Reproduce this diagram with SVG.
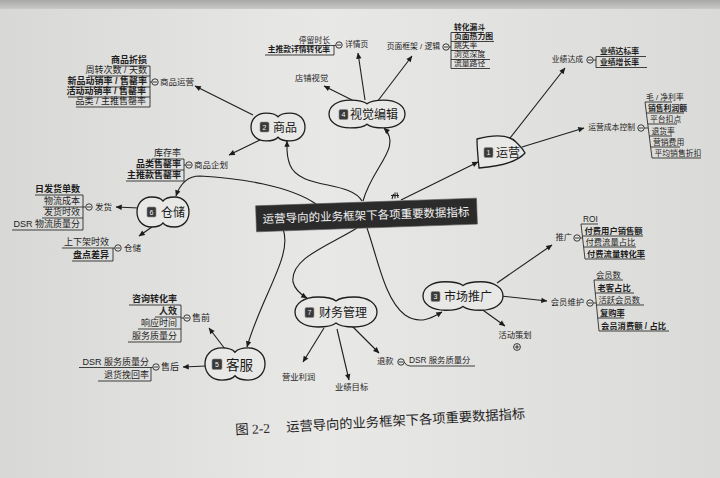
<svg xmlns="http://www.w3.org/2000/svg" width="720" height="478" viewBox="0 0 720 478">
<defs>
<linearGradient id="paper" x1="0" y1="0" x2="1" y2="0">
<stop offset="0" stop-color="#d8d8d6"/><stop offset="0.45" stop-color="#e8e8e6"/><stop offset="1" stop-color="#dadad8"/>
</linearGradient>
<linearGradient id="top" x1="0" y1="0" x2="0" y2="1">
<stop offset="0" stop-color="#a8a9a7"/><stop offset="1" stop-color="#c9cac8"/>
</linearGradient>
<marker id="ah" viewBox="0 0 10 10" refX="9.5" refY="5" markerWidth="8" markerHeight="6" orient="auto" markerUnits="userSpaceOnUse"><path d="M0,0.5 L10,5 L0,9.5 Z" fill="#1c1c1c"/></marker>
<path id="cloud" d="M0,-11 C-5,-14.5 -12,-15 -22,-15 C-40,-15 -50,-8 -50,0 C-50,8 -40,15 -22,15 C-12,15 -5,14.5 0,11 C5,14.5 12,15 22,15 C40,15 50,8 50,0 C50,-8 40,-15 22,-15 C12,-15 5,-14.5 0,-11 Z" fill="#e8e8e6" stroke="#1e1e1e" stroke-width="1.3" vector-effect="non-scaling-stroke"/>
<g id="mc"><circle r="3.2" fill="#e8e8e6" stroke="#222" stroke-width="0.9"/><path d="M-2,0H2" stroke="#222" stroke-width="0.9"/></g>
<g id="pc"><circle r="3.4" fill="#e8e8e6" stroke="#222" stroke-width="0.9"/><path d="M-2.2,0H2.2M0,-2.2V2.2" stroke="#222" stroke-width="0.9"/></g>
</defs>
<style>
text{font-family:"Liberation Sans","Noto Sans CJK SC",sans-serif;fill:#1e1e1e}
.ln{fill:none;stroke:#1e1e1e;stroke-width:1.1}
.ar{marker-end:url(#ah)}
.ul{fill:none;stroke:#222;stroke-width:0.85}
.lf{font-size:9px}
.lr{font-size:7.8px}
.lm{font-size:8.3px}
.lf,.lr,.lm{transform:translateY(-0.6px)}
.sb{font-size:8.5px}
.e{text-anchor:end}
.b{font-weight:bold}
.bd{fill:#3a3a3a;stroke:#8a8a8a;stroke-width:0.6}
.bn{font-size:7px;fill:#f4f4f4;text-anchor:middle}
.nt{font-size:12px;fill:#1a1a1a}
</style>

<rect x="0" y="0" width="720" height="478" fill="url(#paper)"/>
<rect x="0" y="0" width="720" height="9" fill="url(#top)"/>

<g id="connectors">
<path class="ln ar" d="M401,200 L478,162"/>
<path class="ln" d="M392,199 l1.5,-5 M395,198.5 l0,-6 M398,198 l-1,-5.5 M391,195.5 h8" stroke-width="0.8"/>
<path class="ln ar" d="M363,201 C372,167 403,147 384,128"/>
<path class="ln ar" d="M362,201 C350,180 300,190 290,165 C286,155 287,148 287,141"/>
<path class="ln ar" d="M316,204 C290,186 240,178 200,176 C188,176 180,184 176,196"/>
<path class="ln ar" d="M283,229 C293,255 262,295 247,347"/>
<path class="ln ar" d="M357,228 C330,245 290,258 293,282 C295,290 300,294 307,298"/>
<path class="ln ar" d="M367,228 C378,260 385,300 405,315 C420,325 432,318 442,312"/>

<path class="ln ar" d="M253,115 L195,86"/>
<path class="ln ar" d="M260,140 L229,155"/>
<path class="ln ar" d="M139,208 L116,207"/>
<path class="ln ar" d="M152,227 L139,236"/>
<path class="ln ar" d="M356,102 L324,86"/>
<path class="ln ar" d="M365,100 L358,53"/>
<path class="ln ar" d="M377,102 L412,56"/>
<path class="ln ar" d="M507,142 L565,68"/>
<path class="ln ar" d="M522,147 L584,128"/>
<path class="ln ar" d="M497,283 L552,245"/>
<path class="ln ar" d="M501,296 L547,301"/>
<path class="ln ar" d="M480,308 L505,326"/>
<path class="ln ar" d="M324,328 L303,362"/>
<path class="ln ar" d="M337,329 L349,380"/>
<path class="ln ar" d="M350,324 L379,353"/>
<path class="ln ar" d="M225,349 L209,328"/>
<path class="ln ar" d="M206,366 L183,367"/>
</g>

<g id="center" transform="rotate(-2 366 215)">
<rect x="256" y="202" width="221" height="26" fill="#2b2b2b" stroke="#555" stroke-width="0.6"/>
<text x="366" y="219.5" text-anchor="middle" style="font-size:11.5px;fill:#f2f2f2;font-family:'Noto Sans CJK SC',sans-serif">运营导向的业务框架下各项重要数据指标</text>
</g>

<g id="node-yunying">
<path d="M477,139 C492,135 508,134 516,142 C520,146 523,149 525,153 C518,161 505,166 479,168 C478,158 477,148 477,139 Z" fill="#e8e8e6" stroke="#1e1e1e" stroke-width="1.3"/>
<rect class="bd" x="484" y="147.5" width="9" height="10" rx="1.5"/>
<text class="bn" x="488.5" y="155.3">1</text>
<text class="nt" x="496" y="157">运营</text>
</g>

<g id="node-shangpin">
<use href="#cloud" transform="translate(278,127) scale(0.54,0.93)"/>
<rect class="bd" x="260" y="122" width="9" height="10" rx="1.5"/>
<text class="bn" x="264.5" y="129.8">2</text>
<text class="nt" x="273" y="131.5">商品</text>
</g>

<g id="node-shijue">
<use href="#cloud" transform="translate(367,114) scale(0.76,0.93)"/>
<rect class="bd" x="339" y="109.5" width="9" height="10" rx="1.5"/>
<text class="bn" x="343.5" y="117.3">4</text>
<text class="nt" x="350" y="119">视觉编辑</text>
</g>

<g id="node-cangchu">
<use href="#cloud" transform="translate(163,212) scale(0.52,1)"/>
<rect class="bd" x="147" y="207" width="9" height="10" rx="1.5"/>
<text class="bn" x="151.5" y="214.8">6</text>
<text class="nt" x="161" y="216.5">仓储</text>
</g>

<g id="node-kefu">
<use href="#cloud" transform="translate(235,364) scale(0.6,1.07)"/>
<rect class="bd" x="212" y="359" width="10" height="10.5" rx="1.5"/>
<text class="bn" x="217" y="367">5</text>
<text class="nt" x="226" y="369.5" style="font-size:13.5px">客服</text>
</g>

<g id="node-caiwu">
<use href="#cloud" transform="translate(336,312) scale(0.82,1)"/>
<rect class="bd" x="305" y="307.5" width="9" height="10" rx="1.5"/>
<text class="bn" x="309.5" y="315.3">7</text>
<text class="nt" x="319" y="317">财务管理</text>
</g>

<g id="node-shichang">
<use href="#cloud" transform="translate(463,296) scale(0.8,0.95)"/>
<rect class="bd" x="431" y="291.5" width="9" height="10" rx="1.5"/>
<text class="bn" x="435.5" y="299.3">3</text>
<text class="nt" x="444" y="300.5">市场推广</text>
</g>

<g id="sub-shangpinyunying">
<text class="sb" x="160" y="85">商品运营</text>
<use href="#mc" x="155" y="82"/>
<path class="ul" d="M150,66 V107 M150,82 H151.8 M113,66 H150 M88,76 H150 M70,87 H150 M68,97 H150 M76,107 H150"/>
<text class="lf e b" x="147" y="64">商品折损</text>
<text class="lf e" x="147" y="74">周转次数 / 天数</text>
<text class="lf e b" x="147" y="85">新品动销率 / 售罄率</text>
<text class="lf e b" x="146" y="95">活动动销率 / 售罄率</text>
<text class="lf e" x="146" y="105">品类 / 主推售罄率</text>
</g>

<g id="sub-shangpinqihua">
<text class="sb" x="194" y="168">商品企划</text>
<use href="#mc" x="189" y="165"/>
<path class="ul" d="M184,159 V181 M184,165 H185.8 M152,159 H184 M136,170 H184 M126,181 H184"/>
<text class="lf e" x="181" y="157">库存率</text>
<text class="lf e b" x="181" y="168">品类售罄率</text>
<text class="lf e b" x="181" y="179">主推款售罄率</text>
</g>

<g id="sub-fahuo">
<text class="sb" x="95" y="210">发货</text>
<use href="#mc" x="89" y="207"/>
<path class="ul" d="M83,195 V230 M83,207 H85.8 M35,195 H83 M43,207 H83 M42,218 H83 M12,230 H83"/>
<text class="lf e b" x="80" y="193">日发货单数</text>
<text class="lf e" x="80" y="205">物流成本</text>
<text class="lf e" x="80" y="216">发货时效</text>
<text class="lf e" x="80" y="228">DSR 物流质量分</text>
</g>

<g id="sub-cangchu">
<text class="sb" x="124" y="251">仓储</text>
<use href="#mc" x="118" y="248"/>
<path class="ul" d="M113,248 V261 M113,248 H114.8 M62,248 H113 M72,261 H113"/>
<text class="lf e" x="109" y="246">上下架时效</text>
<text class="lf e b" x="109" y="259">盘点差异</text>
</g>

<g id="sub-dianpu">
<text class="lm" x="295" y="82">店铺视觉</text>
</g>

<g id="sub-xiangqing">
<text class="lr" x="345" y="48">详情页</text>
<use href="#mc" x="339" y="45"/>
<path class="ul" d="M334,45.5 V55 M296,45.5 H335.8 M265,55 H334"/>
<text class="lr e" x="330" y="44">停留时长</text>
<text class="lr e b" x="330" y="53">主推款详情转化率</text>
</g>

<g id="sub-yemian">
<text class="lr e" x="440" y="50">页面框架 / 逻辑</text>
<use href="#mc" x="446" y="47"/>
<path class="ul" d="M451,32.5 V68.5 M449.2,47 H451 M451,32.5 H484 M451,41.5 H494 M451,50.5 H480 M451,59.5 H490 M451,68.5 H490"/>
<text class="lr b" x="454" y="31">转化漏斗</text>
<text class="lr b" x="454" y="40">页面热力图</text>
<text class="lr" x="454" y="49">跳失率</text>
<text class="lr" x="454" y="58">浏览深度</text>
<text class="lr" x="454" y="67">流量路径</text>
</g>

<g id="sub-yeji">
<text class="lr e" x="583" y="63">业绩达成</text>
<use href="#mc" x="590" y="60"/>
<path class="ul" d="M596,56.5 V67.5 M593.2,60 H596 M596,56.5 H646 M596,67.5 H647"/>
<text class="lr b" x="600" y="55">业绩达标率</text>
<text class="lr b" x="600" y="66">业绩增长率</text>
</g>

<g id="sub-chengben">
<text class="lr e" x="635" y="131">运营成本控制</text>
<use href="#mc" x="641" y="128"/>
<path class="ul" d="M645,102 L652,158 M644.2,128 H648.2 M645,102 H672 M646.4,113 H684 M647.8,124 H677 M649.2,136 H672 M650.6,147 H680 M652,158 H701"/>
<text class="lr" x="646" y="101">毛 / 净利率</text>
<text class="lr b" x="648" y="112">销售利润额</text>
<text class="lr" x="650" y="123">平台扣点</text>
<text class="lr" x="651.5" y="135">退货率</text>
<text class="lr" x="653" y="146">营销费用</text>
<text class="lr" x="654.5" y="157">平均销售折扣</text>
</g>

<g id="sub-tuiguang">
<text class="lm e" x="572" y="241">推广</text>
<use href="#mc" x="577" y="238"/>
<path class="ul" d="M581,224 L585,259 M580.2,238 H582.6 M581,224 H598 M582.4,236 H643 M583.6,247 H636 M585,259 H645"/>
<text class="lm" x="583" y="223">ROI</text>
<text class="lm b" x="584.5" y="235">付费用户销售额</text>
<text class="lm" x="585.5" y="246">付费流量占比</text>
<text class="lm b" x="587" y="258">付费流量转化率</text>
</g>

<g id="sub-huiyuan">
<text class="lm e" x="584" y="306">会员维护</text>
<use href="#mc" x="590" y="303"/>
<path class="ul" d="M594,280 L599,331 M593.2,303 H596.3 M594,280 H623 M595.3,293 H634 M596.5,305 H644 M597.7,318 H624 M599,331 H669"/>
<text class="lm" x="596" y="279">会员数</text>
<text class="lm b" x="597.5" y="292">老客占比</text>
<text class="lm" x="598.5" y="304">活跃会员数</text>
<text class="lm b" x="600" y="317">复购率</text>
<text class="lm b" x="601" y="330">会员消费额 / 占比</text>
</g>

<g id="sub-huodong">
<text class="lm" x="515" y="339" text-anchor="middle">活动策划</text>
<use href="#pc" x="517" y="347"/>
</g>

<g id="sub-yingye">
<text class="lm" x="282" y="381">营业利润</text>
</g>
<g id="sub-yejimubiao">
<text class="lm" x="335" y="391">业绩目标</text>
</g>

<g id="sub-tuikuan">
<text class="lm" x="377" y="365">退款</text>
<use href="#mc" x="401" y="362"/>
<path class="ul" d="M404.2,362 Q406,366 410,366 H475"/>
<text class="lm" x="409" y="364">DSR 服务质量分</text>
</g>

<g id="sub-shouqian">
<text class="sb" x="192" y="321" style="font-size:9px">售前</text>
<use href="#mc" x="187" y="318"/>
<path class="ul" d="M181,305 V342 M181,318 H183.8 M129,305 H181 M155,317 H181 M138,329 H181 M128,342 H181"/>
<text class="lf e b" x="177" y="303">咨询转化率</text>
<text class="lf e b" x="177" y="315">人效</text>
<text class="lf e" x="177" y="327">响应时间</text>
<text class="lf e" x="177" y="340">服务质量分</text>
</g>

<g id="sub-shouhou">
<text class="sb" x="161" y="370" style="font-size:9px">售后</text>
<use href="#mc" x="156" y="367"/>
<path class="ul" d="M151,367.5 V381 M151,367.5 H152.8 M79,367.5 H151 M98,381 H151"/>
<text class="lf e" x="149" y="366">DSR 服务质量分</text>
<text class="lf e" x="149" y="379">退货挽回率</text>
</g>

<g id="caption" transform="rotate(-3.2 380 421.5)">
<text x="235" y="426.5" style="font-size:13.5px;font-family:'Liberation Serif','Noto Sans CJK SC',serif">图 2-2</text>
<text x="286" y="426.5" style="font-size:13.3px;font-family:'Noto Sans CJK SC',sans-serif">运营导向的业务框架下各项重要数据指标</text>
</g>
</svg>
